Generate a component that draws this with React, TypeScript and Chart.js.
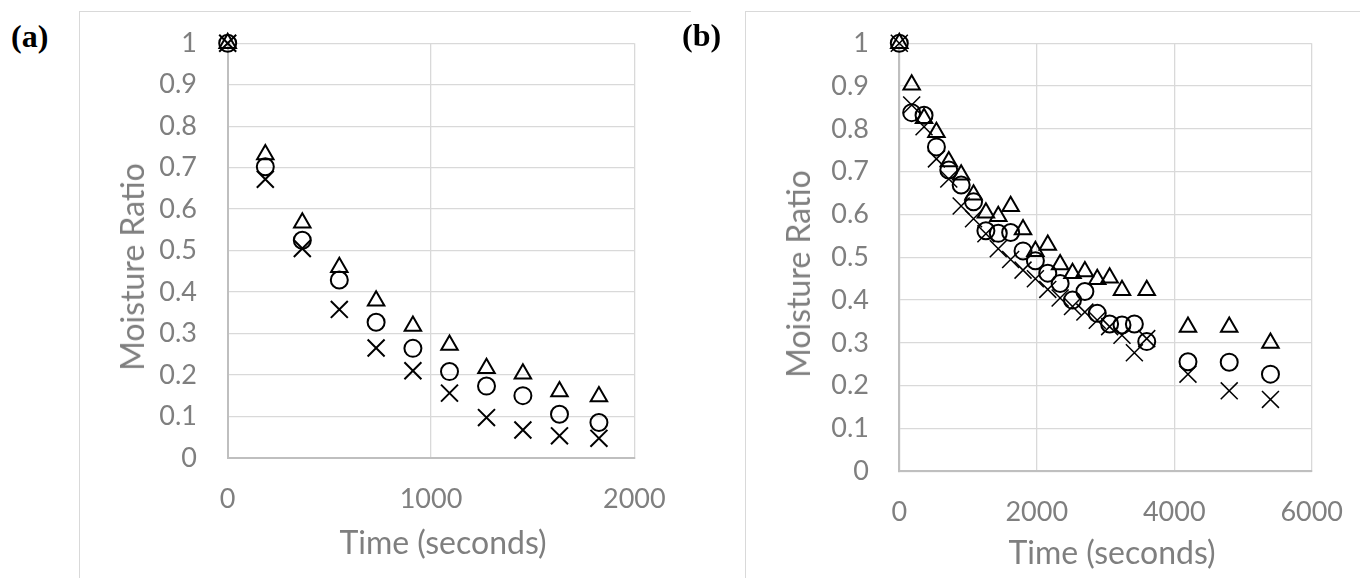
import React, { useEffect, useRef } from 'react';
import { Chart, registerables } from 'chart.js';

Chart.register(...registerables);

// Panel (a): drying time (s) and moisture ratio for the three samples
const TIME_A = [0, 185, 367, 549, 730, 911, 1091, 1273, 1452, 1632, 1826];
const TRIANGLE_A = [1, 0.732, 0.567, 0.46, 0.379, 0.318, 0.272, 0.216, 0.203, 0.16, 0.148];
const CIRCLE_A = [1, 0.702, 0.525, 0.429, 0.327, 0.264, 0.208, 0.173, 0.15, 0.105, 0.085];
const CROSS_A = [1, 0.672, 0.505, 0.358, 0.265, 0.21, 0.156, 0.097, 0.067, 0.053, 0.047];

// Panel (b)
const TIME_B = [0, 180, 360, 540, 720, 900, 1080, 1260, 1440, 1620, 1800, 1980, 2160, 2340, 2520, 2700, 2880, 3060, 3240, 3420, 3600, 4200, 4800, 5400];
const TRIANGLE_B = [1, 0.903, 0.825, 0.792, 0.724, 0.693, 0.646, 0.604, 0.596, 0.619, 0.565, 0.514, 0.529, 0.483, 0.463, 0.467, 0.449, 0.452, 0.423, null, 0.423, 0.337, 0.337, 0.3];
const CIRCLE_B = [1, 0.838, 0.832, 0.758, 0.704, 0.669, 0.63, 0.562, 0.556, 0.558, 0.515, 0.492, 0.463, 0.439, 0.4, 0.42, 0.369, 0.344, 0.342, 0.344, 0.303, 0.256, 0.255, 0.227];
const CROSS_B = [1, 0.856, 0.805, 0.73, 0.683, 0.62, 0.59, 0.555, 0.52, 0.495, 0.47, 0.45, 0.425, 0.405, 0.385, 0.372, 0.353, 0.338, 0.318, 0.277, 0.31, 0.227, 0.188, 0.168];

// Axis ticks
const Y_TICKS = [0, 0.1, 0.2, 0.3, 0.4, 0.5, 0.6, 0.7, 0.8, 0.9, 1];
const Y_TICK_LABELS = ['0', '0.1', '0.2', '0.3', '0.4', '0.5', '0.6', '0.7', '0.8', '0.9', '1'];
const X_TICKS_A = [0, 1000, 2000];
const X_TICK_LABELS_A = ['0', '1000', '2000'];
const X_TICKS_B = [0, 2000, 4000, 6000];
const X_TICK_LABELS_B = ['0', '2000', '4000', '6000'];

const X_TITLE = 'Time (seconds)';
const Y_TITLE = 'Moisture Ratio';

const TEXT_GRAY = '#7f7f7f';
const GRID_GRAY = '#d9d9d9';
const AXIS_GRAY = '#bfbfbf';
const TICK_FONT = { family: 'Lato', size: 27 };

type PanelProps = {
  left: number;
  top: number;
  width: number;
  height: number;
  plotTop: number;
  plotRight: number;
  yAxisWidth: number;
  xAxisHeight: number;
  yTickGap: number;
  xTickGap: number;
  xMax: number;
  xTicks: number[];
  xTickLabels: string[];
  times: number[];
  triangles: (number | null)[];
  circles: (number | null)[];
  crosses: (number | null)[];
  crossWidth: number;
};

function points(xs: number[], ys: (number | null)[]) {
  const out: { x: number; y: number }[] = [];
  xs.forEach((x, i) => {
    const y = ys[i];
    if (y !== null && y !== undefined) out.push({ x, y });
  });
  return out;
}

function markerSet(data: { x: number; y: number }[], style: string, radius: number, width: number) {
  return {
    data,
    showLine: false,
    clip: false as const,
    pointStyle: style,
    pointRadius: radius,
    pointHoverRadius: radius,
    pointBorderColor: '#000000',
    pointBackgroundColor: 'rgba(0,0,0,0)',
    pointBorderWidth: width,
    pointHoverBorderWidth: width,
  };
}

function Panel(p: PanelProps) {
  const ref = useRef<HTMLCanvasElement | null>(null);
  useEffect(() => {
    if (!ref.current) return;
    const chart = new Chart(ref.current, {
      type: 'scatter',
      data: {
        datasets: [
          markerSet(points(p.times, p.triangles), 'triangle', 9.5, 2),
          markerSet(points(p.times, p.circles), 'circle', 8.5, 2),
          markerSet(points(p.times, p.crosses), 'crossRot', 12, p.crossWidth),
        ] as any,
      },
      options: {
        animation: false,
        responsive: false,
        events: [],
        layout: { autoPadding: false, padding: { left: 0, top: p.plotTop, right: p.plotRight, bottom: 0 } },
        plugins: { legend: { display: false }, tooltip: { enabled: false } },
        scales: {
          x: {
            type: 'linear',
            min: 0,
            max: p.xMax,
            afterFit: (s: any) => {
              s.height = p.xAxisHeight;
            },
            afterBuildTicks: (s: any) => {
              s.ticks = p.xTicks.map((v) => ({ value: v }));
            },
            // invisible tick marks space the labels away from the plot
            grid: { color: GRID_GRAY, lineWidth: 1.3, drawTicks: true, tickLength: p.xTickGap, tickColor: 'rgba(0,0,0,0)' },
            border: { color: AXIS_GRAY, width: 2 },
            ticks: {
              color: TEXT_GRAY,
              font: TICK_FONT,
              padding: 0,
              maxRotation: 0,
              autoSkip: false,
              callback: (_v: any, i: number) => p.xTickLabels[i],
            },
          },
          y: {
            type: 'linear',
            min: 0,
            max: 1,
            afterFit: (s: any) => {
              s.width = p.yAxisWidth;
            },
            afterBuildTicks: (s: any) => {
              s.ticks = Y_TICKS.map((v) => ({ value: v }));
            },
            grid: { color: GRID_GRAY, lineWidth: 1.3, drawTicks: true, tickLength: p.yTickGap, tickColor: 'rgba(0,0,0,0)' },
            border: { color: AXIS_GRAY, width: 2 },
            ticks: {
              color: TEXT_GRAY,
              font: TICK_FONT,
              padding: 0,
              autoSkip: false,
              callback: (_v: any, i: number) => Y_TICK_LABELS[i],
            },
          },
        },
      } as any,
    });
    return () => chart.destroy();
  }, []);
  return (
    <canvas
      ref={ref}
      width={p.width}
      height={p.height}
      style={{ position: 'absolute', left: p.left, top: p.top, width: p.width, height: p.height }}
    />
  );
}

const titleStyle: React.CSSProperties = {
  position: 'absolute',
  fontFamily: 'Lato',
  fontSize: 32,
  lineHeight: '32px',
  color: TEXT_GRAY,
  whiteSpace: 'nowrap',
};

const panelLabelStyle: React.CSSProperties = {
  position: 'absolute',
  fontFamily: '"Liberation Serif", serif',
  fontWeight: 'bold',
  fontSize: 32,
  lineHeight: '32px',
  color: '#000',
};

export default function App() {
  return (
    <div
      style={{
        position: 'fixed',
        left: 0,
        top: 0,
        width: 1360,
        height: 578,
        background: '#ffffff',
        overflow: 'hidden',
      }}
    >
      {/* chart frames */}
      <div style={{ position: 'absolute', left: 79, top: 11, width: 611, height: 600, borderLeft: `1px solid ${GRID_GRAY}`, borderTop: `1px solid ${GRID_GRAY}` }} />
      <div style={{ position: 'absolute', left: 745, top: 11, width: 640, height: 600, borderLeft: `1px solid ${GRID_GRAY}`, borderTop: `1px solid ${GRID_GRAY}` }} />

      <Panel
        left={79}
        top={12}
        width={609}
        height={566}
        plotTop={31.3}
        plotRight={53.7}
        yAxisWidth={148.7}
        xAxisHeight={120.2}
        yTickGap={30.7}
        xTickGap={25}
        xMax={2000}
        xTicks={X_TICKS_A}
        xTickLabels={X_TICK_LABELS_A}
        times={TIME_A}
        triangles={TRIANGLE_A}
        circles={CIRCLE_A}
        crosses={CROSS_A}
        crossWidth={2}
      />
      <Panel
        left={745}
        top={12}
        width={615}
        height={566}
        plotTop={31.3}
        plotRight={48.3}
        yAxisWidth={154.3}
        xAxisHeight={106.7}
        yTickGap={30.3}
        xTickGap={25}
        xMax={6000}
        xTicks={X_TICKS_B}
        xTickLabels={X_TICK_LABELS_B}
        times={TIME_B}
        triangles={TRIANGLE_B}
        circles={CIRCLE_B}
        crosses={CROSS_B}
        crossWidth={1.5}
      />

      {/* axis titles */}
      <div style={{ ...titleStyle, left: 443, top: 542, transform: 'translate(-50%, -50%)' }}>{X_TITLE}</div>
      <div style={{ ...titleStyle, left: 132, top: 267, transform: 'translate(-50%, -50%) rotate(-90deg)' }}>{Y_TITLE}</div>
      <div style={{ ...titleStyle, left: 1112, top: 552, transform: 'translate(-50%, -50%)' }}>{X_TITLE}</div>
      <div style={{ ...titleStyle, left: 798, top: 274, transform: 'translate(-50%, -50%) rotate(-90deg)' }}>{Y_TITLE}</div>

      {/* panel letters */}
      <div style={{ ...panelLabelStyle, left: 11, top: 20 }}>(a)</div>
      <div style={{ ...panelLabelStyle, left: 682, top: 19 }}>(b)</div>
    </div>
  );
}
